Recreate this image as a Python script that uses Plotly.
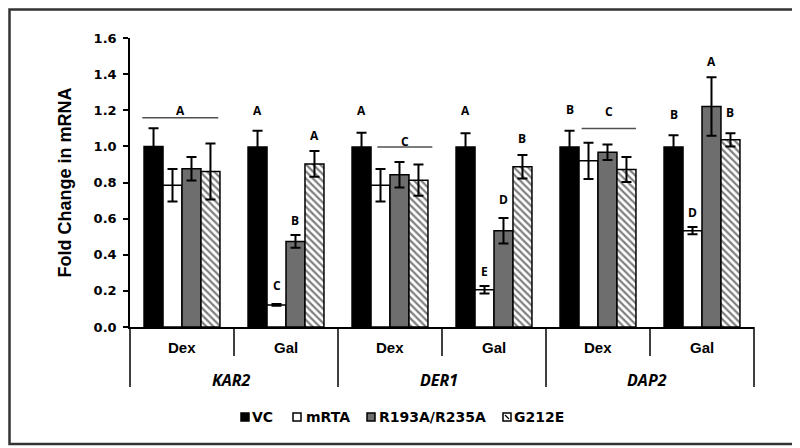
import plotly.graph_objects as go

# ---------------- data ----------------
genes = ["KAR2", "DER1", "DAP2"]
conditions = ["Dex", "Gal"]
groups = [f"{g} {c}" for g in genes for c in conditions]

series = ["VC", "mRTA", "R193A/R235A", "G212E"]
vc = [1.00, 0.997, 0.997, 0.997, 0.997, 0.997]
vc_err = [0.10, 0.09, 0.078, 0.075, 0.09, 0.065]
mrta = [0.785, 0.122, 0.785, 0.206, 0.92, 0.533]
mrta_err = [0.09, 0.005, 0.09, 0.021, 0.10, 0.02]
r193a = [0.876, 0.474, 0.843, 0.533, 0.968, 1.221]
r193a_err = [0.065, 0.035, 0.07, 0.071, 0.043, 0.162]
g212e = [0.861, 0.903, 0.813, 0.887, 0.872, 1.036]
g212e_err = [0.155, 0.071, 0.087, 0.065, 0.069, 0.037]

values = [vc, mrta, r193a, g212e]
errors = [vc_err, mrta_err, r193a_err, g212e_err]

# significance letters placed over individual bars
bar_letter_group = [1, 1, 1, 1, 2, 3, 3, 3, 3, 4, 5, 5, 5, 5]
bar_letter_series = [0, 1, 2, 3, 0, 0, 1, 2, 3, 0, 0, 1, 2, 3]
bar_letter_text = ["A", "C", "B", "A", "A", "A", "E", "D", "B", "B", "B", "D", "A", "B"]
bar_letter_y = [1.20, 0.229, 0.588, 1.062, 1.20, 1.20, 0.31, 0.708, 1.044,
                1.204, 1.176, 0.634, 1.471, 1.185]

# significance letters spanning several bars (with a line)
span_group = [0, 2, 4]
span_x0 = [-0.382, -0.122, -0.157]
span_x1 = [0.349, 0.407, 0.365]
span_line_y = [1.158, 0.997, 1.099]
span_label_y = [1.20, 1.029, 1.191]
span_text = ["A", "C", "C"]

y_ticks = [0.0, 0.2, 0.4, 0.6, 0.8, 1.0, 1.2, 1.4, 1.6]

# ---------------- style ----------------
colors = ["#000000", "#ffffff", "#6e6e6e", "#ffffff"]
patterns = ["", "", "", "\\"]
BARGAP = 0.27
BAR_W = (1 - BARGAP) / len(series)

# page offset of the figure (the page body has an 8px margin)
OFF = 8
W, H = 800 - OFF, 448 - OFF
PLOT_L, PLOT_T, PLOT_W, PLOT_H = 130 - OFF, 38 - OFF, 624, 289


def px_x(px):
    """page pixel x -> paper x"""
    return (px - OFF - PLOT_L) / PLOT_W


def px_y(py):
    """page pixel y -> paper y"""
    return (PLOT_T + PLOT_H - (py - OFF)) / PLOT_H


fig = go.Figure()
for k, name in enumerate(series):
    fig.add_trace(go.Bar(
        name=name,
        x=groups,
        y=values[k],
        error_y=dict(type="data", array=errors[k], visible=True,
                     color="black", thickness=2, width=5),
        marker=dict(color=colors[k],
                    line=dict(color="black", width=1.5),
                    pattern=dict(shape=patterns[k], fgcolor="black",
                                 bgcolor="white", size=5, solidity=0.45)),
        showlegend=False,
    ))

shapes = []
annotations = []
letter_font = dict(family="Open Sans", size=12, color="black", weight=700)

# bar letters
for g, s, t, yv in zip(bar_letter_group, bar_letter_series, bar_letter_text, bar_letter_y):
    xpos = g + (s - 1.5) * BAR_W
    annotations.append(dict(x=xpos, y=yv, xref="x", yref="y", text=t, showarrow=False,
                            font=letter_font, xanchor="center", yanchor="middle"))

# span letters
for g, x0, x1, ly, ty, t in zip(span_group, span_x0, span_x1, span_line_y, span_label_y, span_text):
    shapes.append(dict(type="line", xref="x", yref="y", x0=g + x0, x1=g + x1, y0=ly, y1=ly,
                       line=dict(color="#505050", width=1.5)))
    annotations.append(dict(x=g + (x0 + x1) / 2, y=ty, xref="x", yref="y", text=t, showarrow=False,
                            font=letter_font, xanchor="center", yanchor="middle"))

# category axis labels and dividers
inner_bottom = px_y(356)
outer_bottom = px_y(387)
for i, grp in enumerate(groups):
    annotations.append(dict(x=i, y=px_y(347), xref="x", yref="paper", text=conditions[i % 2],
                            showarrow=False, xanchor="center", yanchor="middle",
                            font=dict(family="Liberation Sans", size=15, color="black", weight=700)))
for gi, gname in enumerate(genes):
    annotations.append(dict(x=2 * gi + 0.5, y=px_y(380), xref="x", yref="paper",
                            text=f"<i>{gname}</i>", showarrow=False, xanchor="center",
                            yanchor="middle", xshift=-3,
                            font=dict(family="Open Sans", size=16, color="black", weight=700)))
for b in range(1, len(groups)):
    bottom = inner_bottom if b % 2 == 1 else outer_bottom
    shapes.append(dict(type="line", xref="x", yref="paper", x0=b - 0.5, x1=b - 0.5,
                       y0=0, y1=bottom, line=dict(color="black", width=1.5)))
for xp in (0, 1):
    shapes.append(dict(type="line", xref="paper", yref="paper", x0=xp, x1=xp,
                       y0=0, y1=outer_bottom, line=dict(color="black", width=1.5)))

# y-axis title
annotations.append(dict(x=px_x(64), y=0.5, xref="paper", yref="paper",
                        text="Fold Change in mRNA", textangle=-90, showarrow=False,
                        xanchor="center", yanchor="middle",
                        font=dict(family="Liberation Sans", size=18, color="black", weight=700)))

# manual legend
leg_sq_x = [241, 293, 367, 503]
leg_txt_x = [250, 304, 377, 512]
leg_y_top, leg_y_bot = 413, 421
for k, name in enumerate(series):
    shapes.append(dict(type="rect", xref="paper", yref="paper",
                       x0=px_x(leg_sq_x[k]), x1=px_x(leg_sq_x[k] + 8),
                       y0=px_y(leg_y_bot), y1=px_y(leg_y_top),
                       fillcolor=colors[k], line=dict(color="black", width=1.5)))
    if patterns[k]:
        shapes.append(dict(type="line", xref="paper", yref="paper",
                           x0=px_x(leg_sq_x[k] + 2), x1=px_x(leg_sq_x[k] + 6),
                           y0=px_y(leg_y_top + 2), y1=px_y(leg_y_bot - 2),
                           line=dict(color="black", width=1.2)))
    annotations.append(dict(x=px_x(leg_txt_x[k]), y=px_y((leg_y_top + leg_y_bot) / 2),
                            xref="paper", yref="paper", text=name, showarrow=False,
                            xanchor="left", yanchor="middle",
                            font=dict(family="DejaVu Sans", size=14, color="black", weight=700)))

# outer frame (as close to the page edge as the figure allows)
shapes.append(dict(type="rect", xref="paper", yref="paper",
                   x0=px_x(OFF + 1.5), x1=px_x(795), y0=px_y(444), y1=px_y(OFF + 1.5),
                   line=dict(color="#333333", width=2.5), fillcolor="rgba(0,0,0,0)"))

fig.update_layout(
    width=W, height=H,
    margin=dict(l=PLOT_L, r=W - PLOT_L - PLOT_W, t=PLOT_T, b=H - PLOT_T - PLOT_H),
    paper_bgcolor="white", plot_bgcolor="white",
    barmode="group", bargap=BARGAP, bargroupgap=0,
    shapes=shapes, annotations=annotations,
    xaxis=dict(type="category", categoryorder="array", categoryarray=groups,
               range=[-0.5, len(groups) - 0.5], showticklabels=False, ticks="",
               showline=True, linecolor="black", linewidth=1.5, showgrid=False, zeroline=False),
    yaxis=dict(range=[0, 1.6], tickvals=y_ticks, tickformat=".1f",
               showline=True, linecolor="black", linewidth=1.5,
               ticks="outside", ticklen=5, tickwidth=1.5, tickcolor="black",
               showgrid=False, zeroline=False, ticklabelstandoff=4,
               tickfont=dict(family="DejaVu Sans", size=13, color="black", weight=700)),
)

fig.write_html("out.html")
